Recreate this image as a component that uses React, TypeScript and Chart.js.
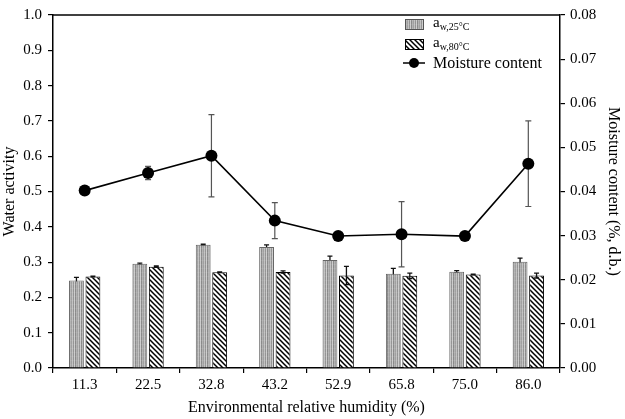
import React, { useEffect, useRef } from "react";
import { Chart, registerables } from "chart.js";

Chart.register(...registerables);

const categories = ["11.3", "22.5", "32.8", "43.2", "52.9", "65.8", "75.0", "86.0"];
const aw25 = [0.248, 0.295, 0.349, 0.343, 0.306, 0.267, 0.273, 0.301];
const aw25Err = [0.009, 0.002, 0.002, 0.006, 0.011, 0.015, 0.003, 0.010];
const aw80 = [0.259, 0.287, 0.271, 0.272, 0.262, 0.261, 0.265, 0.262];
const aw80Err = [0.001, 0.002, 0.001, 0.003, 0.026, 0.008, 0.001, 0.007];
const moisture = [0.0402, 0.0442, 0.0481, 0.0334, 0.0299, 0.0303, 0.0299, 0.0463];
const moistureErr = [0.0, 0.0015, 0.0093, 0.0041, 0.0, 0.0074, 0.0, 0.0097];
const leftTicks = [0, 0.1, 0.2, 0.3, 0.4, 0.5, 0.6, 0.7, 0.8, 0.9, 1.0];
const rightTicks = [0, 0.01, 0.02, 0.03, 0.04, 0.05, 0.06, 0.07, 0.08];

const FONT = "'Liberation Serif', 'DejaVu Serif', serif";

function makeGrayPattern(): CanvasPattern | string {
  const c = document.createElement("canvas");
  c.width = 6;
  c.height = 4;
  const g = c.getContext("2d");
  if (!g) return "#aaa";
  const cols = ["#c2c2c2", "#949494", "#cdcdcd", "#8a8a8a", "#b2b2b2", "#a0a0a0"];
  cols.forEach((col, i) => {
    g.fillStyle = col;
    g.fillRect(i, 0, 1, 4);
  });
  g.fillStyle = "rgba(255,255,255,0.08)";
  g.fillRect(0, 0, 6, 1);
  const p = g.createPattern(c, "repeat");
  return p || "#aaa";
}

function makeHatchPattern(): CanvasPattern | string {
  const s = 5;
  const c = document.createElement("canvas");
  c.width = s;
  c.height = s;
  const g = c.getContext("2d");
  if (!g) return "#fff";
  g.fillStyle = "#fff";
  g.fillRect(0, 0, s, s);
  g.strokeStyle = "#000";
  g.lineWidth = 1.5;
  g.beginPath();
  g.moveTo(-1, -1);
  g.lineTo(s + 1, s + 1);
  g.moveTo(-1, s - 1);
  g.lineTo(1, s + 1);
  g.moveTo(s - 1, -1);
  g.lineTo(s + 1, 1);
  g.stroke();
  const p = g.createPattern(c, "repeat");
  return p || "#fff";
}

export default function App() {
  const ref = useRef<HTMLCanvasElement | null>(null);

  useEffect(() => {
    document.body.style.margin = "0";
    const canvas = ref.current;
    if (!canvas) return;
    const grayPat = makeGrayPattern();
    const hatchPat = makeHatchPattern();

    const framePlugin = {
      id: "frame",
      afterDraw(chart: any) {
        const { ctx, chartArea } = chart;
        ctx.save();
        ctx.strokeStyle = "#000";
        ctx.lineWidth = 1.5;
        ctx.beginPath();
        ctx.moveTo(chartArea.left, chartArea.top);
        ctx.lineTo(chartArea.right, chartArea.top);
        ctx.stroke();
        ctx.restore();
      },
    };

    const errByLabel: Record<string, number[]> = {
      "Moisture content": moistureErr,
      "aw,25°C": aw25Err,
      "aw,80°C": aw80Err,
    };

    const drawErr = (chart: any, wantLine: boolean) => {
      const { ctx } = chart;
      chart.data.datasets.forEach((ds: any, di: number) => {
        const isLine = ds.type === "line";
        if (isLine !== wantLine) return;
        const errs = errByLabel[ds.label];
        const meta = chart.getDatasetMeta(di);
        const scale = chart.scales[meta.yAxisID];
        const cap = isLine ? 3 : 2.5;
        meta.data.forEach((el: any, i: number) => {
          const v = ds.data[i];
          const e = errs[i];
          if (!e) return;
          const x = el.x;
          const yT = scale.getPixelForValue(v + e);
          const yB = scale.getPixelForValue(v - e);
          ctx.save();
          ctx.strokeStyle = isLine ? "#555" : "#111";
          ctx.lineWidth = isLine ? 1.2 : 1.3;
          ctx.beginPath();
          ctx.moveTo(x, yT);
          ctx.lineTo(x, yB);
          ctx.moveTo(x - cap, yT);
          ctx.lineTo(x + cap, yT);
          ctx.moveTo(x - cap, yB);
          ctx.lineTo(x + cap, yB);
          ctx.stroke();
          ctx.restore();
        });
      });
    };

    const errorPlugin = {
      id: "errbars",
      afterDatasetDraw(chart: any, args: any) {
        const ds = chart.data.datasets[args.index];
        if (ds.type === "bar" && ds.label === "aw,80°C") drawErr(chart, false);
      },
      beforeDatasetDraw(chart: any, args: any) {
        const ds = chart.data.datasets[args.index];
        if (ds.type === "line") drawErr(chart, true);
      },
    };

    const legendPlugin = {
      id: "customLegend",
      afterDraw(chart: any) {
        const { ctx } = chart;
        ctx.save();
        const bx = 405;
        const tx = 433;
        const rows = [24, 44, 63];
        ctx.fillStyle = grayPat;
        ctx.fillRect(bx, rows[0] - 5, 19, 11);
        ctx.strokeStyle = "#555";
        ctx.lineWidth = 1;
        ctx.strokeRect(bx + 0.5, rows[0] - 4.5, 18, 10);
        ctx.fillStyle = hatchPat;
        ctx.fillRect(bx, rows[1] - 5, 19, 11);
        ctx.strokeStyle = "#000";
        ctx.strokeRect(bx + 0.5, rows[1] - 4.5, 18, 10);
        ctx.lineWidth = 1.5;
        ctx.beginPath();
        ctx.moveTo(bx - 2, rows[2]);
        ctx.lineTo(bx + 20, rows[2]);
        ctx.stroke();
        ctx.fillStyle = "#000";
        ctx.beginPath();
        ctx.arc(bx + 9, rows[2], 5, 0, Math.PI * 2);
        ctx.fill();
        ctx.fillStyle = "#000";
        ctx.textBaseline = "alphabetic";
        ctx.textAlign = "left";
        const subs = ["w,25°C", "w,80°C"];
        for (let i = 0; i < 2; i++) {
          ctx.font = `15px ${FONT}`;
          ctx.fillText("a", tx, rows[i] + 3);
          const w = ctx.measureText("a").width;
          ctx.font = `10px ${FONT}`;
          ctx.fillText(subs[i], tx + w, rows[i] + 6);
        }
        ctx.font = `16px ${FONT}`;
        ctx.fillText("Moisture content", tx, rows[2] + 5);
        ctx.restore();
      },
    };

    const chart = new Chart(canvas, {
      data: {
        labels: categories,
        datasets: [
          {
            type: "line",
            label: "Moisture content",
            data: moisture,
            yAxisID: "y1",
            borderColor: "#000",
            backgroundColor: "#000",
            borderWidth: 1.6,
            pointRadius: 6,
            pointBackgroundColor: "#000",
            pointBorderWidth: 0,
            tension: 0,
            order: 0,
          } as any,
          {
            type: "bar",
            label: "aw,25°C",
            data: aw25,
            yAxisID: "y",
            backgroundColor: grayPat as any,
            borderColor: "#666",
            borderWidth: 1,
            categoryPercentage: 0.52,
            barPercentage: 0.9,
            order: 1,
          },
          {
            type: "bar",
            label: "aw,80°C",
            data: aw80,
            yAxisID: "y",
            backgroundColor: hatchPat as any,
            borderColor: "#000",
            borderWidth: 1,
            categoryPercentage: 0.52,
            barPercentage: 0.9,
            order: 1,
          },
        ],
      },
      options: {
        animation: false,
        responsive: false,
        maintainAspectRatio: false,
        events: [],
        layout: { padding: { top: 6, bottom: 0, left: 0, right: 0 } },
        plugins: { legend: { display: false }, tooltip: { enabled: false } },
        scales: {
          x: {
            type: "category",
            offset: true,
            grid: { display: true, drawOnChartArea: false, drawTicks: true, tickLength: 5, color: "#000", offset: true, lineWidth: 1.2 },
            border: { color: "#000", width: 1.5 },
            ticks: { color: "#000", font: { family: FONT, size: 15 }, padding: 3, maxRotation: 0 },
            title: { display: true, text: "Environmental relative humidity (%)", color: "#000", font: { family: FONT, size: 16 }, padding: { top: 0, bottom: 2 } },
            afterFit(s: any) { s.height = 51; },
          },
          y: {
            type: "linear",
            position: "left",
            min: 0,
            max: 1,
            afterBuildTicks(s: any) { s.ticks = leftTicks.map((v) => ({ value: v })); },
            grid: { display: true, drawOnChartArea: false, drawTicks: true, tickLength: 5, color: "#000", lineWidth: 1.2 },
            border: { color: "#000", width: 1.5 },
            ticks: { color: "#000", font: { family: FONT, size: 15 }, padding: 6, callback: (v: any) => Number(v).toFixed(1) },
            title: { display: true, text: "Water activity", color: "#000", font: { family: FONT, size: 16 }, padding: { top: 0, bottom: 2 } },
            afterFit(s: any) { s.width = 53; },
          },
          y1: {
            type: "linear",
            position: "right",
            min: 0,
            max: 0.08,
            afterBuildTicks(s: any) { s.ticks = rightTicks.map((v) => ({ value: v })); },
            grid: { display: true, drawOnChartArea: false, drawTicks: true, tickLength: 5, color: "#000", lineWidth: 1.2 },
            border: { color: "#000", width: 1.5 },
            ticks: { color: "#000", font: { family: FONT, size: 15 }, padding: 5, callback: (v: any) => Number(v).toFixed(2) },
            title: { display: true, text: "Moisture content (%, d.b.)", color: "#000", font: { family: FONT, size: 16 }, padding: { top: 2, bottom: 0 } },
            afterFit(s: any) { s.width = 65; },
          },
        },
      },
      plugins: [framePlugin, errorPlugin, legendPlugin],
    });
    return () => chart.destroy();
  }, []);

  return <canvas ref={ref} width={625} height={419} style={{ display: "block" }} />;
}
